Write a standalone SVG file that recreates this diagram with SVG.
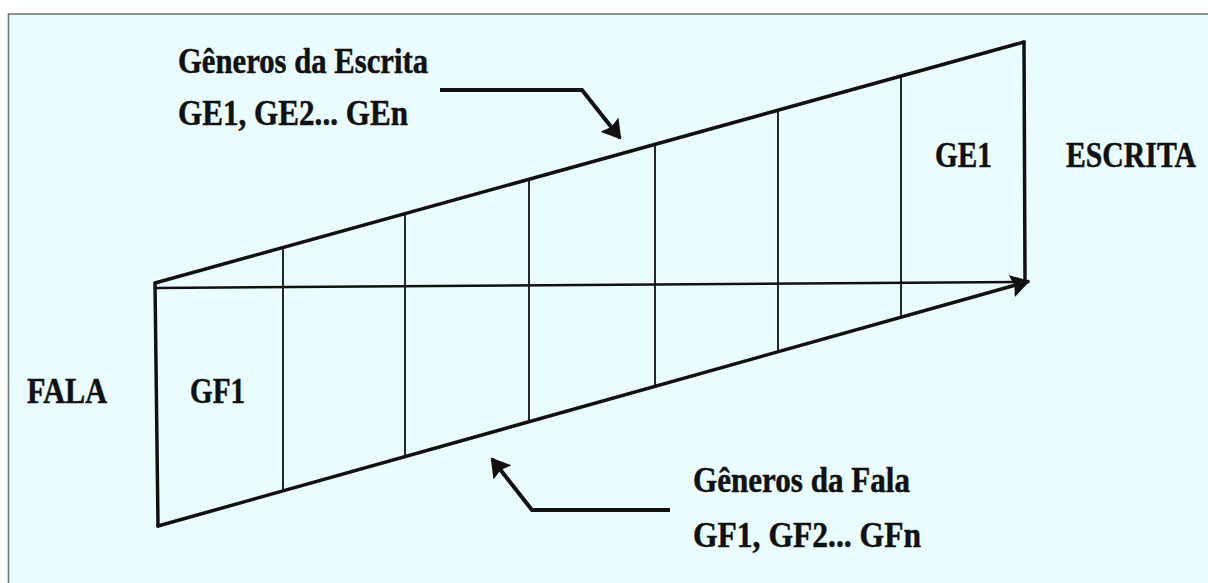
<svg xmlns="http://www.w3.org/2000/svg" width="1208" height="583" viewBox="0 0 1208 583">
  <style>
    .lbl { font-family: "Liberation Serif", "Times New Roman", serif; font-weight: bold; font-size: 35px; fill: #111; stroke: #111; stroke-width: 0.5; }
    .edge { stroke: #111; stroke-width: 3.5; fill: none; stroke-linecap: round; stroke-linejoin: round; }
    .mid { stroke: #111; stroke-width: 2.4; fill: none; }
    .div { stroke: #111; stroke-width: 1.8; fill: none; }
    .conn { stroke: #111; stroke-width: 4; fill: none; stroke-linejoin: miter; }
  </style>
  <defs>
    <marker id="ah" markerUnits="userSpaceOnUse" markerWidth="20" markerHeight="24" refX="17" refY="11.5" orient="auto">
      <path d="M0,0 L19,11.5 L0,23 L3,11.5 Z" fill="#111"/>
    </marker>
  </defs>
  <rect x="0" y="0" width="1208" height="583" fill="#ffffff"/>
  <rect x="8.5" y="14" width="1210" height="580" fill="#ebfcfe" stroke="#777" stroke-width="1.6"/>

  <g id="band">
    <path class="edge" d="M1024,42 L155,283 L158,526"/>
    <path class="edge" d="M1024,42 L1025,279"/>
  </g>

  <g id="divisions">
    <line class="div" x1="283" y1="247.5" x2="283" y2="491"/>
    <line class="div" x1="405" y1="213.6" x2="405" y2="456.7"/>
    <line class="div" x1="529" y1="179.2" x2="529" y2="421.9"/>
    <line class="div" x1="655" y1="144.2" x2="655" y2="386.6"/>
    <line class="div" x1="778" y1="110.1" x2="778" y2="352.1"/>
    <line class="div" x1="901" y1="75.9" x2="901" y2="317.6"/>
  </g>

  <g id="connectors">
    <line class="mid" x1="156" y1="288" x2="1024" y2="282"/>
    <line class="edge" x1="158" y1="526" x2="1028" y2="281.5" marker-end="url(#ah)"/>
    <polyline class="conn" points="440,90 582,90 620,138" marker-end="url(#ah)"/>
    <polyline class="conn" points="670,510 532,510 492,459" marker-end="url(#ah)"/>
  </g>

  <g id="label-generos-escrita">
    <text class="lbl" x="178" y="73" textLength="250" lengthAdjust="spacingAndGlyphs">Gêneros da Escrita</text>
    <text class="lbl" x="178" y="125" textLength="230" lengthAdjust="spacingAndGlyphs">GE1, GE2... GEn</text>
  </g>
  <g id="label-ge1">
    <text class="lbl" x="935" y="167" textLength="57" lengthAdjust="spacingAndGlyphs">GE1</text>
  </g>
  <g id="label-escrita">
    <text class="lbl" x="1066" y="167" textLength="130" lengthAdjust="spacingAndGlyphs">ESCRITA</text>
  </g>
  <g id="label-fala">
    <text class="lbl" x="27" y="403" textLength="80" lengthAdjust="spacingAndGlyphs">FALA</text>
  </g>
  <g id="label-gf1">
    <text class="lbl" x="190" y="403" textLength="55" lengthAdjust="spacingAndGlyphs">GF1</text>
  </g>
  <g id="label-generos-fala">
    <text class="lbl" x="693" y="492" textLength="217" lengthAdjust="spacingAndGlyphs">Gêneros da Fala</text>
    <text class="lbl" x="693" y="547" textLength="228" lengthAdjust="spacingAndGlyphs">GF1, GF2... GFn</text>
  </g>
</svg>
